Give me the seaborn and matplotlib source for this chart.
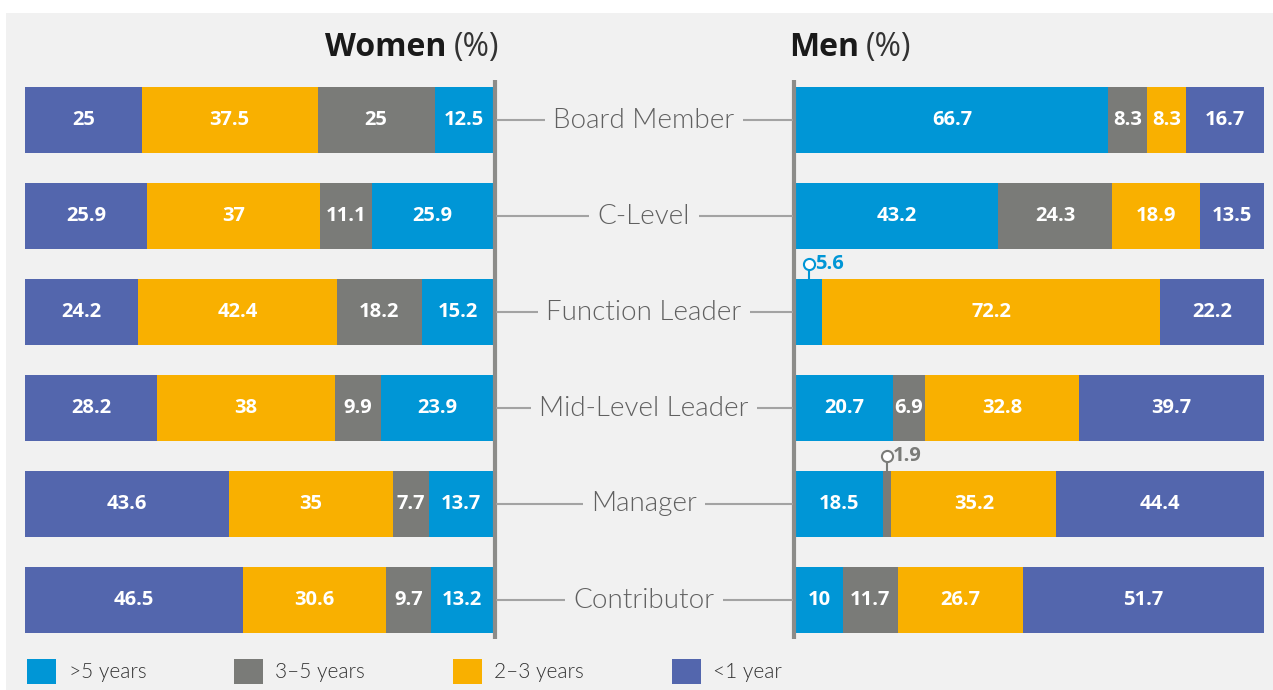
import numpy as np
import pandas as pd
import seaborn as sns
import matplotlib.pyplot as plt
import matplotlib.transforms as mtransforms
from matplotlib.patches import Patch, Rectangle
from matplotlib.lines import Line2D

roles = ["Board Member", "C-Level", "Function Leader", "Mid-Level Leader", "Manager", "Contributor"]
tenures = [">5 years", "3–5 years", "2–3 years", "<1 year"]
colors = ["#0096d6", "#7a7b78", "#f9b000", "#5366ad"]

# values per role, from the centre line outwards: >5, 3-5, 2-3, <1 years
women_over5 = [12.5, 25.9, 15.2, 23.9, 13.7, 13.2]
women_3to5 = [25, 11.1, 18.2, 9.9, 7.7, 9.7]
women_2to3 = [37.5, 37, 42.4, 38, 35, 30.6]
women_under1 = [25, 25.9, 24.2, 28.2, 43.6, 46.5]

men_over5 = [66.7, 43.2, 5.6, 20.7, 18.5, 10]
men_3to5 = [8.3, 24.3, 0, 6.9, 1.9, 11.7]
men_2to3 = [8.3, 18.9, 72.2, 32.8, 35.2, 26.7]
men_under1 = [16.7, 13.5, 22.2, 39.7, 44.4, 51.7]

sns.set_style("white")
plt.rcParams['font.family'] = ['Open Sans', 'DejaVu Sans']

W, H = 1273, 690
bg = "#f1f1f1"
fig = plt.figure(figsize=(W / 100, H / 100), dpi=100, facecolor="white")
fig.add_artist(Rectangle((6 / W, 0), 1, 1 - 13 / H, transform=fig.transFigure,
                         facecolor=bg, edgecolor="none", zorder=-5))

ax_w = fig.add_axes([25 / W, 42 / H, 468 / W, 576 / H])
ax_m = fig.add_axes([796 / W, 42 / H, 468 / W, 576 / H])
over = fig.add_axes([0, 0, 1, 1])
over.set_xlim(0, W)
over.set_ylim(H, 0)
over.axis("off")
over.patch.set_alpha(0)


def draw_side(ax, series, xlim):
    df = pd.DataFrame(dict(zip(tenures, series)), index=roles)
    cum = df.cumsum(axis=1)
    prev = cum - df
    for tenure, color in reversed(list(zip(tenures, colors))):
        sns.barplot(x=cum[tenure].values, y=roles, orient="h", color=color,
                    saturation=1, width=0.68, linewidth=0, errorbar=None, ax=ax)
    for i, role in enumerate(roles):
        for j, tenure in enumerate(tenures):
            v = df.loc[role, tenure]
            mid = prev.loc[role, tenure] + v / 2
            if v >= 6:
                ax.text(mid, i, f"{v:g}", ha="center", va="center", color="white",
                        fontsize=14.5, fontweight="bold")
            elif v > 0:
                # small share: pin above the bar with the value beside it
                top = i - 0.34
                pin = i - 0.5
                ax.plot([mid, mid], [top, pin], color=colors[j], lw=1.5,
                        clip_on=False, zorder=4)
                ax.plot([mid], [pin], marker="o", ms=8, mfc="white", mec=colors[j],
                        mew=1.5, clip_on=False, zorder=5)
                ax.annotate(f"{v:g}", xy=(mid, pin), xytext=(4, 0),
                            textcoords="offset points", ha="left", va="center",
                            color=colors[j], fontsize=14.5, fontweight="bold",
                            annotation_clip=False)
    ax.set_xlim(*xlim)
    ax.set_ylim(len(roles) - 0.5, -0.5)
    ax.axis("off")
    ax.patch.set_alpha(0)


draw_side(ax_w, [women_over5, women_3to5, women_2to3, women_under1], (100, 0))
draw_side(ax_m, [men_over5, men_3to5, men_2to3, men_under1], (0, 100))

# centre axis lines
for x in (494.5, 794):
    over.add_line(Line2D([x, x], [80, 639], color="#8c8c89", lw=3, solid_capstyle="butt"))

# category labels with connectors
tr = mtransforms.blended_transform_factory(over.transData, ax_w.transData)
for i, role in enumerate(roles):
    over.add_line(Line2D([497, 792], [i, i], transform=tr, color="#a3a3a3", lw=1.5))
    over.text(644, i, role, transform=tr, ha="center", va="center", fontsize=20,
              family=["Lato", "Open Sans"], fontweight=300, color="#606060",
              bbox=dict(boxstyle="square,pad=0.3", facecolor=bg, edgecolor="none"))

# titles
ty = 1 - 56 / H
pct_w = fig.text(499 / W, ty, "(%)", ha="right", va="baseline", fontsize=23, color="#333333")
plt.annotate("Women", xy=(0, 0), xycoords=pct_w, xytext=(-5, 0), textcoords="offset points",
             ha="right", va="bottom", fontsize=23, fontweight="bold", color="#1a1a1a")
men_t = fig.text(789 / W, ty, "Men", ha="left", va="baseline", fontsize=23,
                 fontweight="bold", color="#1a1a1a")
plt.annotate("(%)", xy=(1, 0), xycoords=men_t, xytext=(5, 0), textcoords="offset points",
             ha="left", va="bottom", fontsize=23, color="#333333")

handles = [Patch(facecolor=c, edgecolor="none", label=t) for t, c in zip(tenures, colors)]
fig.legend(handles=handles, loc="center left", bbox_to_anchor=(27 / W, 1 - 671.5 / H),
           ncol=4, frameon=False, borderaxespad=0, borderpad=0,
           handlelength=1.4, handleheight=1.4, handletextpad=0.6, columnspacing=4.2,
           prop={"family": ["Lato", "Open Sans"], "weight": 300, "size": 15},
           labelcolor="#333333")

fig.savefig("out.png", dpi=100, facecolor=fig.get_facecolor())
